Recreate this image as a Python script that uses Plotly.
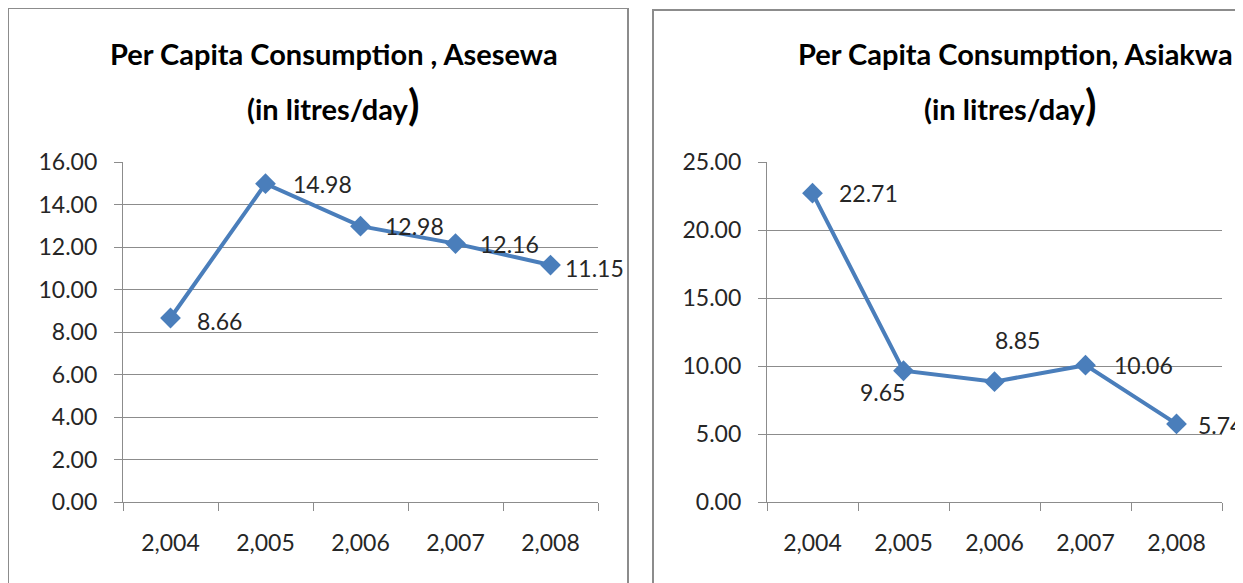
import plotly.graph_objects as go

years = ["2,004", "2,005", "2,006", "2,007", "2,008"]
asesewa = [8.66, 14.98, 12.98, 12.16, 11.15]
asiakwa = [22.71, 9.65, 8.85, 10.06, 5.74]
asesewa_ticks = [0, 2, 4, 6, 8, 10, 12, 14, 16]
asiakwa_ticks = [0, 5, 10, 15, 20, 25]

W, H = 1243, 583
OFF = 8  # page body margin
BLUE = "#4a7ebb"
GRID = "#8c8c8c"
FONT = "Lato"
TXT = "#262626"

def px(x):
    return (x - OFF) / W

def py(y):
    return 1 - (y - OFF) / H

fig = go.Figure()
for xa, ya, vals in (("x", "y", asesewa), ("x2", "y2", asiakwa)):
    fig.add_trace(go.Scatter(x=years, y=vals, mode="lines+markers", xaxis=xa, yaxis=ya,
                             line=dict(color=BLUE, width=4),
                             marker=dict(symbol="diamond", size=16, color=BLUE),
                             showlegend=False, hoverinfo="skip"))

tick_font = dict(family=FONT, size=23, color=TXT)

def xaxis(dom, anchor):
    return dict(domain=dom, anchor=anchor, type="category", tickson="boundaries",
                range=[-0.5, len(years) - 0.5],
                showgrid=False, showline=True, linecolor=GRID, linewidth=1.3,
                ticks="outside", tickcolor=GRID, ticklen=8, tickwidth=1.3,
                ticklabelstandoff=20, tickfont=tick_font, automargin=False, fixedrange=True)

def yaxis(dom, anchor, rng, vals):
    return dict(domain=dom, anchor=anchor, range=rng, tickvals=vals, tickformat=".2f",
                showgrid=True, gridcolor=GRID, gridwidth=1.3, zeroline=False,
                showline=True, linecolor=GRID, linewidth=1.3,
                ticks="outside", tickcolor=GRID, ticklen=8, tickwidth=1.3,
                ticklabelstandoff=12, tickfont=tick_font, automargin=False, fixedrange=True)

fig.update_layout(
    width=W, height=H, margin=dict(l=0, r=0, t=0, b=0, autoexpand=False),
    paper_bgcolor="white", plot_bgcolor="white",
    xaxis=xaxis([px(123), px(598)], "y"),
    yaxis=yaxis([py(502), py(162)], "x", [0, 16], asesewa_ticks),
    xaxis2=xaxis([px(767), px(1222)], "y2"),
    yaxis2=yaxis([py(502), py(162)], "x2", [0, 25], asiakwa_ticks),
)

shapes = [
    dict(type="rect", xref="paper", yref="paper", x0=px(8), x1=px(628), y0=py(600), y1=py(8),
         line=dict(color=GRID, width=2)),
    dict(type="rect", xref="paper", yref="paper", x0=px(653), x1=px(1260), y0=py(600), y1=py(10),
         line=dict(color=GRID, width=2)),
]
fig.update_layout(shapes=shapes)

ann = []
title_font = dict(family=FONT, size=29, color="black")
paren = "<span style='font-size:42px'>)</span>"
for cx1, cx2, name in ((334, 333, "Per Capita Consumption , Asesewa"),
                       (1015, 1010, "Per Capita Consumption, Asiakwa")):
    ann.append(dict(xref="paper", yref="paper", x=px(cx1), y=py(53), text=f"<b>{name}</b>",
                    showarrow=False, font=title_font, xanchor="center", yanchor="middle"))
    ann.append(dict(xref="paper", yref="paper", x=px(cx2), y=py(104),
                    text=f"<b>(in litres/day{paren}</b>",
                    showarrow=False, font=title_font, xanchor="center", yanchor="middle"))

lab_font = dict(family=FONT, size=23, color=TXT)
left_off = [(24, -3, "left"), (25, 0, "left"), (22, 0, "left"), (22, 0, "left"), (12, -3, "left")]
for yr, v, (dx, dy, xa) in zip(years, asesewa, left_off):
    ann.append(dict(xref="x", yref="y", x=yr, y=v, text=f"{v:.2f}", showarrow=False, font=lab_font,
                    xanchor=xa, yanchor="middle", xshift=dx, yshift=dy))
right_off = [(25, 0, "left"), (-21, -21, "center"), (23, 42, "center"), (26, 0, "left"), (19, -1, "left")]
for yr, v, (dx, dy, xa) in zip(years, asiakwa, right_off):
    ann.append(dict(xref="x2", yref="y2", x=yr, y=v, text=f"{v:.2f}", showarrow=False, font=lab_font,
                    xanchor=xa, yanchor="middle", xshift=dx, yshift=dy))
fig.update_layout(annotations=ann)

fig.write_html("out.html")
